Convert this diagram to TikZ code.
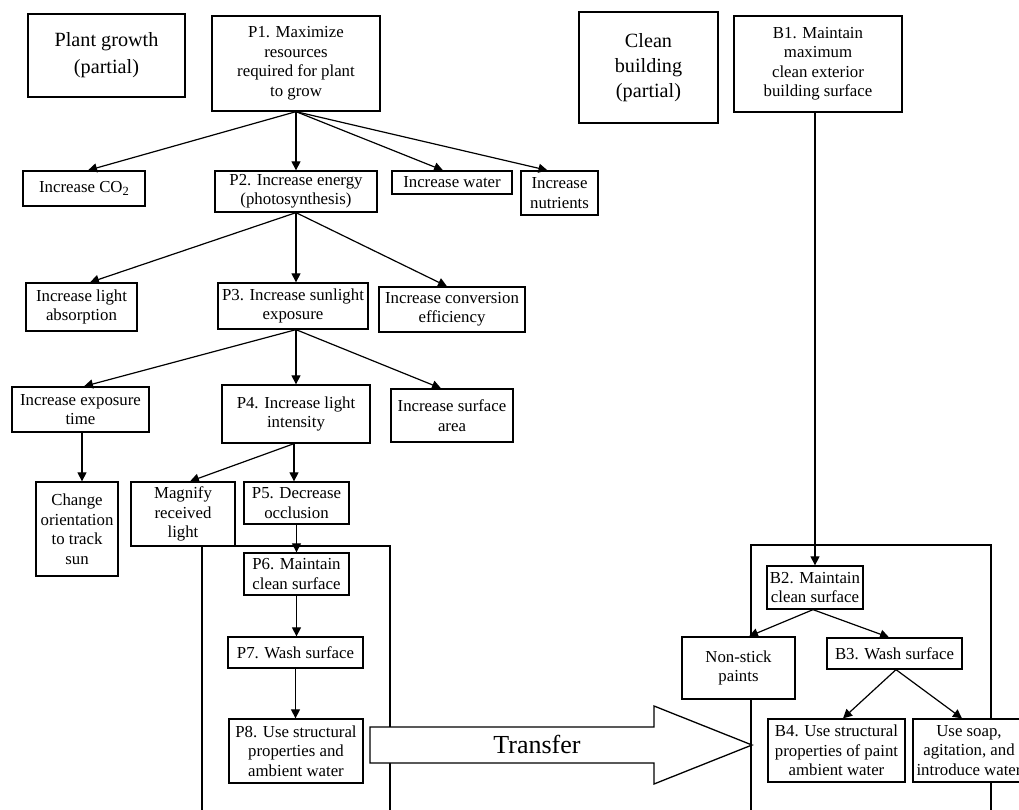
\documentclass[tikz,border=0pt]{standalone}
\usepackage{fontspec}
\setmainfont{Liberation Serif}
\usetikzlibrary{arrows.meta}
\begin{document}
\begin{tikzpicture}[x=1pt,y=-1pt,
  box/.style={draw, line width=1.3pt, fill=white, inner sep=0pt, align=center,
    font=\fontsize{16.8}{19.5}\selectfont},
  bigbox/.style={box, font=\fontsize{20.2}{27}\selectfont},
  conn/.style={line width=1.2pt, -{Triangle[length=9pt,width=9pt]}},
  frame/.style={line width=1.3pt}]
\clip (0,0) rectangle (1019,810);
% frames
\draw[frame] (202,830) -- (202,546) -- (390,546) -- (390,830);
\draw[frame] (751,830) -- (751,545) -- (991,545) -- (991,830);
% transfer arrow
\draw[frame, fill=white] (370,727) -- (654,727) -- (654,706) -- (752,745) -- (654,784) -- (654,763) -- (370,763) -- cycle;
\node[font=\fontsize{26}{30}\selectfont] (transfer) at (537,744) {Transfer};
% nodes
\node[bigbox, minimum width=157pt, minimum height=83pt] (pg) at (106.5,55.5) {Plant growth\\(partial)};
\node[box, minimum width=168pt, minimum height=95pt] (P1) at (296,63.5) {P1. Maximize\\resources\\required for plant\\to grow};
\node[bigbox, minimum width=139pt, minimum height=111pt, font=\fontsize{20.2}{25}\selectfont] (cb) at (648.5,67.5) {Clean\\building\\(partial)};
\node[box, minimum width=168pt, minimum height=96pt] (B1) at (818,64) {B1. Maintain\\maximum\\clean exterior\\building surface};
\node[box, minimum width=122pt, minimum height=35pt] (co2) at (84,188.5) {Increase CO\raisebox{-0.35ex}{\fontsize{12.5}{12.5}\selectfont 2}};
\node[box, minimum width=162pt, minimum height=41pt] (P2) at (296,191.5) {P2. Increase energy\\(photosynthesis)};
\node[box, minimum width=120pt, minimum height=23pt] (water) at (452,182.5) {Increase water};
\node[box, minimum width=77pt, minimum height=44pt] (nutr) at (559.5,193) {Increase\\nutrients};
\node[box, minimum width=111pt, minimum height=48pt] (absorb) at (81.5,307) {Increase light\\absorption};
\node[box, minimum width=150pt, minimum height=46pt] (P3) at (293,306) {P3. Increase sunlight\\exposure};
\node[box, minimum width=146pt, minimum height=45pt] (conv) at (452,309.5) {Increase conversion\\efficiency};
\node[box, minimum width=137pt, minimum height=45pt] (exptime) at (80.5,409.5) {Increase exposure\\time};
\node[box, minimum width=148pt, minimum height=58pt] (P4) at (296,414) {P4. Increase light\\intensity};
\node[box, minimum width=122pt, minimum height=53pt] (surf) at (452,415.5) {Increase surface\\area};
\node[box, minimum width=82pt, minimum height=94pt] (orient) at (77,529) {Change\\orientation\\to track\\sun};
\node[box, minimum width=104pt, minimum height=64pt] (magn) at (183,514) {Magnify\\received\\light};
\node[box, minimum width=105pt, minimum height=42pt] (P5) at (296.5,503) {P5. Decrease\\occlusion};
\node[box, minimum width=105pt, minimum height=42pt] (P6) at (296.5,574) {P6. Maintain\\clean surface};
\node[box, minimum width=135pt, minimum height=31pt] (P7) at (295.5,652.5) {P7. Wash surface};
\node[box, minimum width=134pt, minimum height=64pt] (P8) at (296,751) {P8. Use structural\\properties and\\ambient water};
\node[box, minimum width=96pt, minimum height=43pt] (B2) at (815,587.5) {B2. Maintain\\clean surface};
\node[box, minimum width=113pt, minimum height=62pt] (nonstick) at (738.5,668) {Non-stick\\paints};
\node[box, minimum width=135pt, minimum height=31pt] (B3) at (894.5,653.5) {B3. Wash surface};
\node[box, minimum width=137pt, minimum height=63pt] (B4) at (836.5,750.5) {B4. Use structural\\properties of paint\\ambient water};
\node[box, minimum width=112pt, minimum height=63pt] (soap) at (969,750.5) {Use soap,\\agitation, and\\introduce water};
% connectors
\draw[conn] (P1.south) -- ([xshift=4pt]co2.north);
\draw[conn] (P1.south) -- (P2.north);
\draw[conn] (P1.south) -- ([xshift=-9pt]water.north);
\draw[conn] (P1.south) -- ([xshift=-12pt]nutr.north);
\draw[conn] (P2.south) -- ([xshift=8.5pt]absorb.north);
\draw[conn] (P2.south) -- ([xshift=3pt]P3.north);
\draw[conn] (P2.south) -- ([xshift=-5pt]conv.north);
\draw[conn] ([xshift=3pt]P3.south) -- ([xshift=3.5pt]exptime.north);
\draw[conn] ([xshift=3pt]P3.south) -- (P4.north);
\draw[conn] ([xshift=3pt]P3.south) -- ([xshift=-11pt]surf.north);
\draw[conn] ([xshift=1.5pt]exptime.south) -- ([xshift=1.5pt]exptime.south |- orient.north);
\draw[conn] ([xshift=-2pt]P4.south) -- ([xshift=7pt]magn.north);
\draw[conn] ([xshift=-2pt]P4.south) -- ([xshift=-2.5pt]P5.north);
\draw[conn] (P5.south) -- (P6.north);
\draw[conn] (P6.south) -- (P6.south |- P7.north);
\draw[conn] (P7.south) -- (P7.south |- P8.north);
\draw[conn] (B2.north |- B1.south) -- (B2.north);
\draw[conn] ([xshift=-2pt]B2.south) -- ([xshift=10.5pt]nonstick.north);
\draw[conn] ([xshift=-2pt]B2.south) -- ([xshift=-5.5pt]B3.north);
\draw[conn] ([xshift=1.5pt]B3.south) -- ([xshift=6.5pt]B4.north);
\draw[conn] ([xshift=1.5pt]B3.south) -- ([xshift=-7pt]soap.north);
\end{tikzpicture}
\end{document}
